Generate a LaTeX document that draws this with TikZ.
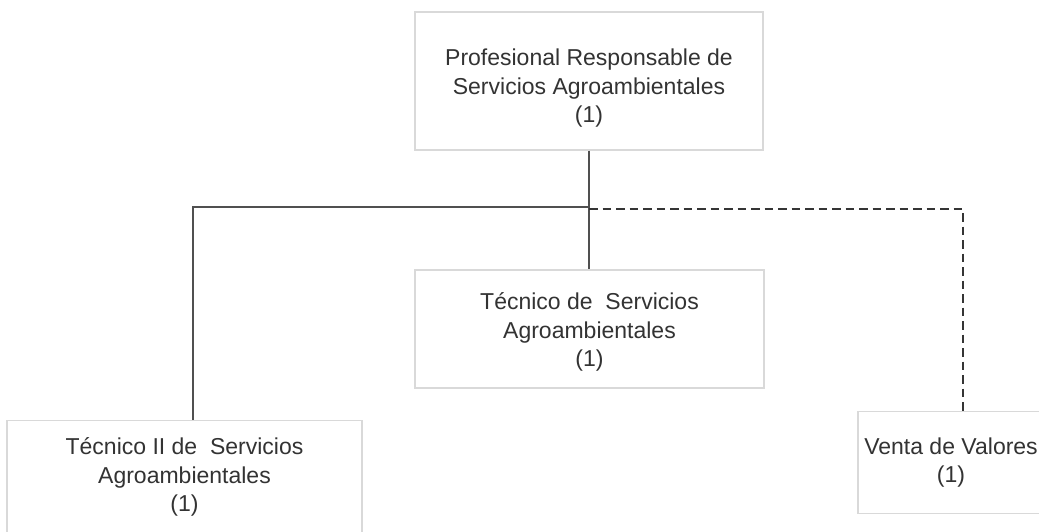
\documentclass[tikz,border=0pt]{standalone}
\usepackage{fontspec}
\setmainfont{Liberation Sans}
\definecolor{boxgray}{HTML}{D9D9D9}
\definecolor{lng}{HTML}{505050}
\definecolor{dsh}{HTML}{353535}
\definecolor{txt}{HTML}{333333}
\begin{document}
\begin{tikzpicture}[x=1pt,y=-1pt,
  box/.style={draw=boxgray, line width=1.2pt, align=center, font=\fontsize{23}{28.5}\selectfont, text=txt, inner sep=0pt},
  conn/.style={draw=lng, line width=1.3pt},
  dconn/.style={draw=dsh, line width=2.6pt, dash pattern=on 8.5pt off 5pt}]
\useasboundingbox[fill=white] (0,0) rectangle (1039,531);
\node[box, minimum width=348pt, minimum height=138pt, text height=88pt] (top) at (589,81) {Profesional Responsable de\\Servicios Agroambientales\\(1)};
\node[box, minimum width=349pt, minimum height=118pt, text height=80pt] (mid) at (589.5,329) {Técnico de~ Servicios\\Agroambientales\\(1)};
\node[box, anchor=north, minimum width=355pt, inner ysep=17pt] (left) at (184.5,420) {Técnico II de~ Servicios\\Agroambientales\\(1)};
\node[box, anchor=north, minimum width=186pt, inner ysep=26pt] (right) at (951,411) {Venta de Valores\\(1)};
\coordinate (jn) at (top.south |- 0,207);
\draw[conn] (top.south) -- (top.south |- mid.north);
\draw[conn] (jn) -| ([xshift=8.5pt]left.north);
\draw[dconn] ([yshift=-2pt]jn) -| ([xshift=12pt]right.north);
\end{tikzpicture}
\end{document}
